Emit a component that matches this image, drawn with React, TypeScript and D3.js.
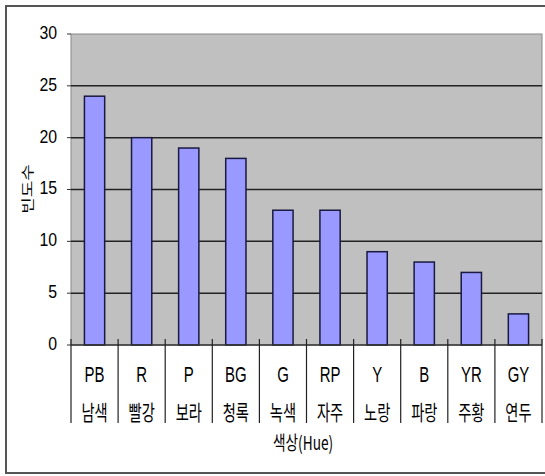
import * as d3 from "d3";

const codes = ["PB", "R", "P", "BG", "G", "RP", "Y", "B", "YR", "GY"];
const names = ["남색", "빨강", "보라", "청록", "녹색", "자주", "노랑", "파랑", "주황", "연두"];
const counts = [24, 20, 19, 18, 13, 13, 9, 8, 7, 3];
const yTicks = [0, 5, 10, 15, 20, 25, 30];

const W = 545;
const H = 476;
const plot = { left: 71, top: 34, right: 542, bottom: 345 };
const FONT = "'Liberation Sans', 'Noto Sans CJK KR', sans-serif";
const KFONT = "'Noto Sans CJK KR', sans-serif";

// narrow, tall text like the old Gulim rendering
function NarrowText({ x, y, text, size, family, sx = 0.8, anchor = "middle", rotate = 0 }: any) {
  return (
    <g transform={`translate(${x},${y}) rotate(${rotate}) scale(${sx},1)`}>
      <text textAnchor={anchor} dominantBaseline="central" fontSize={size} fontFamily={family} fill="#000">
        {text}
      </text>
    </g>
  );
}

export default function App() {
  const x = d3.scaleBand<string>().domain(codes).range([plot.left, plot.right]).paddingInner(0).paddingOuter(0);
  const y = d3.scaleLinear().domain([0, 30]).range([plot.bottom, plot.top]);
  const bw = x.bandwidth() * 0.43;

  return (
    <svg width={W} height={H} style={{ position: "absolute", left: 0, top: 0, background: "#fff" }}>
      {/* outer frame */}
      <rect x={6} y={6} width={W + 10} height={467} fill="#fff" stroke="#555" strokeWidth={2} />

      {/* plot area */}
      <rect x={plot.left} y={plot.top} width={plot.right - plot.left} height={plot.bottom - plot.top} fill="#c0c0c0" stroke="#888" strokeWidth={1} />

      {yTicks.filter((t) => t > 0 && t < 30).map((t) => (
        <line key={t} x1={plot.left} x2={plot.right} y1={y(t)} y2={y(t)} stroke="#222" strokeWidth={1.5} />
      ))}

      {/* y ticks & labels */}
      {yTicks.map((t) => (
        <g key={"yt" + t}>
          <line x1={plot.left - 4} x2={plot.left} y1={y(t)} y2={y(t)} stroke="#333" />
          <NarrowText x={57} y={y(t) - 1} text={String(t)} size={18} family={FONT} sx={0.88} anchor="end" />
        </g>
      ))}

      {/* bars */}
      {codes.map((c, i) => (
        <rect
          key={c}
          x={(x(c) as number) + x.bandwidth() / 2 - bw / 2}
          y={y(counts[i])}
          width={bw}
          height={y(0) - y(counts[i])}
          fill="#9999ff"
          stroke="#1a1a40"
          strokeWidth={1.5}
        />
      ))}

      {/* x axis line */}
      <line x1={plot.left} x2={plot.right} y1={plot.bottom} y2={plot.bottom} stroke="#333" strokeWidth={1.5} />

      {/* category separators */}
      {[...codes.map((c) => x(c) as number), plot.right].map((bx, i) => (
        <line key={"sep" + i} x1={bx} x2={bx} y1={plot.bottom - 6} y2={423} stroke="#222" strokeWidth={1.2} />
      ))}

      {/* category labels */}
      {codes.map((c, i) => {
        const cx = (x(c) as number) + x.bandwidth() / 2;
        return (
          <g key={"lab" + c}>
            <NarrowText x={cx} y={374} text={c} size={22} family={FONT} sx={0.68} />
            <NarrowText x={cx} y={411} text={names[i]} size={21} family={KFONT} sx={0.68} />
          </g>
        );
      })}

      {/* axis titles */}
      <NarrowText x={303} y={442} text="색상(Hue)" size={19} family={KFONT} sx={0.72} />
      <g transform="translate(26,189) rotate(-90) scale(1.2,0.85)">
        <text textAnchor="middle" dominantBaseline="central" fontSize={15} fontFamily={KFONT} fill="#000">
          빈도수
        </text>
      </g>
    </svg>
  );
}
